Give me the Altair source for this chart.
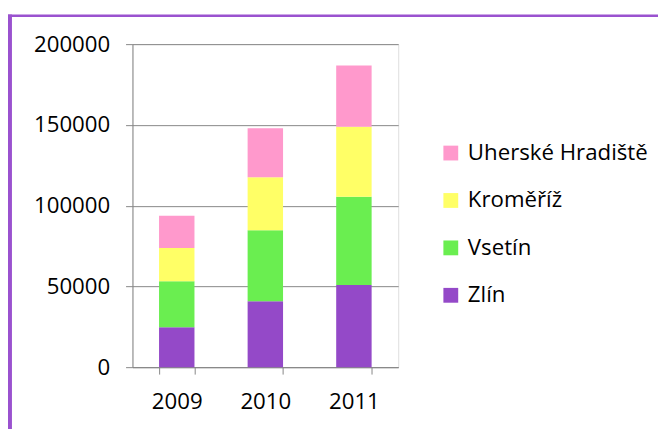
import altair as alt
import pandas as pd

# ---- data ----
years = ["2009", "2010", "2011"]
zlin = [24650, 40740, 50950]
vsetin = [28550, 44030, 54620]
kromeriz = [20570, 32830, 43230]
uh = [19990, 30400, 37930]

series_names = ["Zlín", "Vsetín", "Kroměříž", "Uherské Hradiště"]
series_values = [zlin, vsetin, kromeriz, uh]
series_colors = ["#9449C8", "#6AEE50", "#FFFF66", "#FF99CC"]
y_ticks = [0, 50000, 100000, 150000, 200000]

rows = []
for i, (name, vals) in enumerate(zip(series_names, series_values)):
    for yr, v in zip(years, vals):
        rows.append({"year": yr, "region": name, "value": v, "stack": i})
df = pd.DataFrame(rows)

legend_order = series_names[::-1]
legend_colors = series_colors[::-1]

AXIS = "#868686"
BORDER = "#9A52CF"
FONT = "Open Sans"

bars = alt.Chart(df).mark_bar().encode(
    x=alt.X(
        "year:N",
        sort=years,
        scale=alt.Scale(paddingInner=0.6, paddingOuter=0.3),
        axis=alt.Axis(
            title=None, labelAngle=0, tickBand="extent", grid=False,
            domainColor=AXIS, tickColor=AXIS, tickSize=7,
            labelFontSize=22.5, labelPadding=17, labelColor="#000000",
            labelFont=FONT,
        ),
    ),
    y=alt.Y(
        "value:Q",
        stack="zero",
        scale=alt.Scale(domain=[0, 200000], nice=False),
        axis=alt.Axis(
            title=None, values=y_ticks, format="d", grid=True,
            gridColor=AXIS, gridWidth=1, gridOpacity=1,
            domainColor=AXIS, tickColor=AXIS, tickSize=7,
            labelFontSize=22.5, labelPadding=16, labelColor="#000000",
            labelFont=FONT,
        ),
    ),
    color=alt.Color(
        "region:N",
        scale=alt.Scale(domain=legend_order, range=legend_colors),
        legend=alt.Legend(
            title=None, orient="none", legendX=311, legendY=99,
            symbolType="square", symbolSize=225, symbolStrokeWidth=0,
            labelFontSize=22.5, labelFont=FONT, labelColor="#000000",
            labelLimit=400, labelOffset=6, rowPadding=25, padding=0,
        ),
    ),
    order=alt.Order("stack:Q", sort="ascending"),
)

border_data = alt.Data(values=[{}])
left_border = alt.Chart(border_data).mark_rule(color=BORDER, strokeWidth=4).encode(
    x=alt.value(-124), y=alt.value(-30), y2=alt.value(420)
)
top_border = alt.Chart(border_data).mark_rule(color=BORDER, strokeWidth=2.5).encode(
    x=alt.value(-126), x2=alt.value(560), y=alt.value(-28.7)
)

chart = alt.layer(bars, left_border, top_border).properties(
    width=269,
    height=327,
    autosize=alt.AutoSizeParams(type="none"),
    padding={"left": 126, "top": 34, "right": 263, "bottom": 60},
).configure_view(strokeWidth=0).configure(font=FONT)

chart.save("out.html", embed_options={"renderer": "svg", "actions": False})
